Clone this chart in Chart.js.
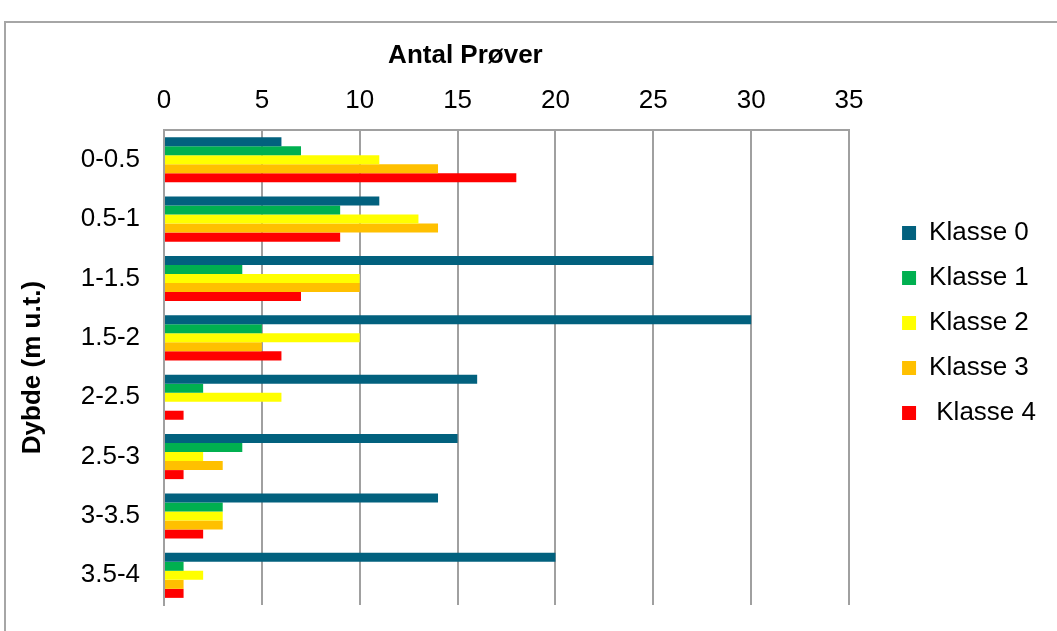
<!DOCTYPE html>
<html lang="da">
<head>
<meta charset="utf-8" />
<title>Antal Prøver</title>
<script src="https://cdn.jsdelivr.net/npm/chart.js"></script>
<style>
  html, body { margin: 0; padding: 0; background: #fff; }
  #frame { position: absolute; left: 4px; top: 21px; width: 1200px; height: 800px; border: 2px solid #a6a6a6; }
  #wrap { position: absolute; left: 0; top: 0; width: 1057px; height: 631px; }
</style>
</head>
<body>
<div id="frame"></div>
<div id="wrap"><canvas id="dybdeChart" width="1057" height="631"></canvas></div>
<script>
  // dybdeintervaller og antal prøver pr. klasse
  const intervaller = ['0-0.5', '0.5-1', '1-1.5', '1.5-2', '2-2.5', '2.5-3', '3-3.5', '3.5-4'];
  const klasse0 = [6, 11, 25, 30, 16, 15, 14, 20];
  const klasse1 = [7, 9, 4, 5, 2, 4, 3, 1];
  const klasse2 = [11, 13, 10, 10, 6, 2, 3, 2];
  const klasse3 = [14, 14, 10, 5, 0, 3, 3, 1];
  const klasse4 = [18, 9, 7, 6, 1, 1, 2, 1];
  const klasseNavne = ['Klasse 0', 'Klasse 1', 'Klasse 2', 'Klasse 3', ' Klasse 4'];
  const farver = ['#02617E', '#00B050', '#FFFF00', '#FFC000', '#FF0000'];

  const FONT = '"Liberation Sans", Arial, sans-serif';

  const serier = [klasse0, klasse1, klasse2, klasse3, klasse4];
  const datasets = serier.map((vals, i) => ({
    label: klasseNavne[i],
    data: vals,
    xAxisID: 'x',
    yAxisID: 'y',
    backgroundColor: farver[i],
    borderWidth: 0,
    barPercentage: 1,
    categoryPercentage: 0.76
  }));

  // aksetitel over x-aksen
  const topTitel = {
    id: 'topTitel',
    afterDraw(chart) {
      const x = chart.scales.x;
      const c = chart.ctx;
      c.save();
      c.font = 'bold 26px ' + FONT;
      c.fillStyle = '#000';
      c.textAlign = 'center';
      c.textBaseline = 'middle';
      c.fillText('Antal Prøver', x.getPixelForValue(15.4), 56);
      c.restore();
    }
  };

  // tomme akser, som kun holder afstand
  const spacer = (size, horizontal) => ({
    type: 'linear',
    display: true,
    min: 0,
    max: 1,
    ticks: { display: false },
    grid: { display: false, drawTicks: false },
    border: { display: false },
    afterFit(s) { if (horizontal) s.height = size; else s.width = size; }
  });

  const ctx = document.getElementById('dybdeChart').getContext('2d');
  const dybdeChart = new Chart(ctx, {
    type: 'bar',
    data: { labels: intervaller, datasets: datasets },
    plugins: [topTitel],
    options: {
      indexAxis: 'y',
      responsive: false,
      animation: false,
      layout: { padding: { top: 20, bottom: 5, left: 6, right: 11 } },
      scales: {
        x: {
          position: 'top',
          min: 0,
          max: 35,
          ticks: {
            stepSize: 5,
            padding: 14,
            color: '#000',
            font: { size: 26, family: FONT }
          },
          grid: { color: '#a0a0a0', lineWidth: 2, drawTicks: false },
          border: { display: true, color: '#a0a0a0', width: 2 },
          afterFit(s) { s.height = 110; }
        },
        xb: Object.assign(spacer(21, true), { position: 'bottom' }),
        y: {
          ticks: {
            padding: 24,
            color: '#000',
            font: { size: 26, family: FONT }
          },
          grid: { display: false, drawTicks: false },
          border: { display: true, color: '#a0a0a0', width: 2 },
          title: {
            display: true,
            text: 'Dybde (m u.t.)',
            color: '#000',
            padding: { top: 11, bottom: 10 },
            font: { size: 26, weight: 'bold', family: FONT }
          },
          afterFit(s) {
            s.width = 158;
            s.paddingTop = 0;
            s.paddingBottom = 0;
          }
        },
        yr: Object.assign(spacer(34, false), { position: 'right' })
      },
      plugins: {
        tooltip: { enabled: false },
        legend: {
          position: 'right',
          labels: {
            boxWidth: 14,
            boxHeight: 14,
            padding: 19,
            color: '#000',
            font: { size: 26, family: FONT }
          }
        }
      }
    }
  });
</script>
</body>
</html>
